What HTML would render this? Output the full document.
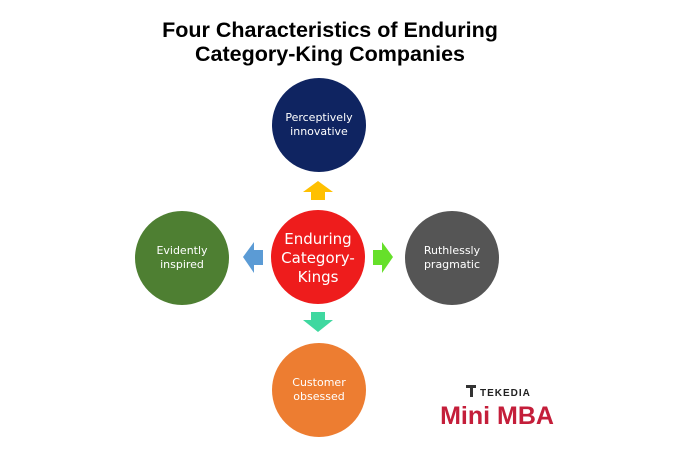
<!DOCTYPE html>
<html><head><style>
body{margin:0;width:677px;height:450px;background:#fff;overflow:hidden;font-family:"Liberation Sans",sans-serif}
</style></head><body>
<svg width="677" height="450" xmlns="http://www.w3.org/2000/svg">
<text x="330" y="37" text-anchor="middle" font-family="Liberation Sans" font-weight="bold" font-size="21.5" fill="#000">Four Characteristics of Enduring</text>
<text x="330" y="61" text-anchor="middle" font-family="Liberation Sans" font-weight="bold" font-size="21.5" fill="#000">Category-King Companies</text>
<g font-family="DejaVu Sans, Liberation Sans" font-size="11" fill="#fff" text-anchor="middle">
<circle cx="319" cy="125" r="47" fill="#0f2461"/>
<text x="319" y="121">Perceptively</text><text x="319" y="135">innovative</text>
<circle cx="182" cy="258" r="47" fill="#4e7f32"/>
<text x="182" y="254">Evidently</text><text x="182" y="268">inspired</text>
<circle cx="452" cy="258" r="47" fill="#555555"/>
<text x="452" y="254">Ruthlessly</text><text x="452" y="268">pragmatic</text>
<circle cx="319" cy="390" r="47" fill="#ed7d31"/>
<text x="319" y="386">Customer</text><text x="319" y="400">obsessed</text>
<circle cx="318" cy="257" r="47" fill="#ee1c1c"/>
<g font-size="15"><text x="318" y="244">Enduring</text><text x="318" y="263">Category-</text><text x="318" y="282">Kings</text></g>
</g>
<polygon points="318,181 333,192 325,192 325,200 311,200 311,192 303,192" fill="#ffc000"/>
<polygon points="243,257 254,242 254,250 263,250 263,265 254,265 254,273" fill="#5b9bd5"/>
<polygon points="393,257 382,242 382,250 373,250 373,265 382,265 382,273" fill="#66e02a"/>
<polygon points="318,332 333,320 325,320 325,312 311,312 311,320 303,320" fill="#3fd8a0"/>
<g fill="#333"><rect x="466" y="385" width="10" height="3"/><rect x="470" y="388" width="3" height="9"/></g>
<text x="480" y="396" font-family="Liberation Sans" font-weight="bold" font-size="10" fill="#222" letter-spacing="1">TEKEDIA</text>
<text x="497" y="424" text-anchor="middle" font-family="Liberation Sans" font-weight="bold" font-size="25" fill="#c41e3a">Mini MBA</text>
</svg>
</body></html>
